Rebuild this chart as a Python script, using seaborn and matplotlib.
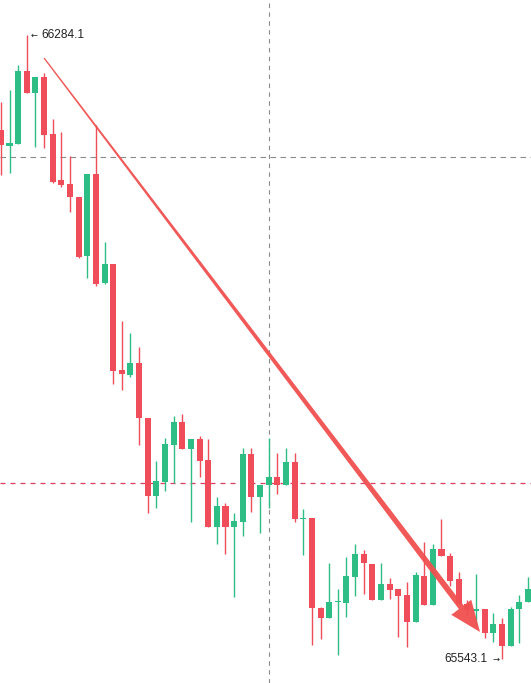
import numpy as np
import pandas as pd
import matplotlib
matplotlib.use("Agg")
import matplotlib.pyplot as plt
from matplotlib.patches import Polygon
from matplotlib.transforms import IdentityTransform
import seaborn as sns

# ---- data ----
opens = [66171.3, 66152.3, 66154.7, 66241.4, 66215.3, 66234.3, 66166.6, 66111.9, 66107.2, 66091.8,
         66021.7, 66119.1, 65989.6, 66012.2, 65886.3, 65880.4, 65894.6, 65829.3, 65736.7, 65753.3,
         65797.3, 65824.6, 65792.5, 65804.4, 65779.5, 65699.9, 65724.8, 65699.9, 65705.8, 65786.6,
         65735.5, 65749.8, 65759.3, 65749.8, 65777.1, 65709.4, 65710.6, 65603.7, 65591.8, 65610.8,
         65609.6, 65640.5, 65667.8, 65655.9, 65613.2, 65632.2, 65626.3, 65619.2, 65587.1, 65641.7,
         65607.3, 65673.7, 65665.4, 65638.1, 65608.4, 65600.1, 65602.5, 65574.0, 65584.7, 65558.6,
         65602.5, 65610.8]
highs = [66204.6, 66218.8, 66248.5, 66284.1, 66234.3, 66239.0, 66184.4, 66169.0, 66140.4, 66091.8,
         66119.1, 66177.3, 66038.3, 66012.2, 65944.5, 65930.3, 65913.6, 65829.3, 65778.3, 65805.6,
         65831.7, 65834.1, 65804.4, 65808.0, 65804.4, 65735.5, 65728.4, 65716.5, 65793.7, 65793.7,
         65749.8, 65805.6, 65787.8, 65793.7, 65787.8, 65721.3, 65710.6, 65604.9, 65657.1, 65626.3,
         65664.3, 65679.7, 65672.6, 65655.9, 65657.1, 65639.3, 65626.3, 65634.6, 65646.4, 65682.1,
         65679.7, 65709.4, 65669.0, 65646.4, 65613.2, 65644.1, 65602.5, 65597.7, 65591.8, 65604.9,
         65619.2, 65641.0]
lows = [66117.9, 66120.3, 66154.7, 66215.3, 66151.1, 66149.9, 66108.4, 66103.6, 66073.9, 66019.3,
        65995.6, 65986.1, 65988.4, 65869.7, 65862.6, 65878.0, 65797.3, 65716.5, 65722.5, 65742.6,
        65752.1, 65792.5, 65705.8, 65759.3, 65699.9, 65679.7, 65667.8, 65616.8, 65689.2, 65717.7,
        65692.8, 65722.5, 65739.1, 65749.8, 65705.8, 65666.6, 65559.8, 65566.9, 65591.8, 65547.9,
        65593.0, 65618.0, 65620.4, 65613.2, 65613.2, 65614.4, 65569.3, 65557.4, 65587.1, 65607.3,
        65607.3, 65665.4, 65629.8, 65608.4, 65595.4, 65583.5, 65568.1, 65563.3, 65543.1, 65558.6,
        65562.1, 65610.8]
closes = [66153.5, 66155.9, 66241.4, 66215.3, 66234.3, 66165.4, 66109.6, 66106.0, 66091.8, 66020.5,
          66119.1, 65988.4, 66012.2, 65885.1, 65881.6, 65894.6, 65829.3, 65736.7, 65754.5, 65798.4,
          65824.6, 65792.5, 65804.4, 65778.3, 65699.9, 65724.8, 65699.9, 65707.0, 65786.6, 65735.5,
          65749.8, 65759.3, 65749.8, 65777.1, 65709.4, 65710.6, 65603.7, 65591.8, 65610.8, 65612.0,
          65641.7, 65667.8, 65657.1, 65613.2, 65632.2, 65625.1, 65618.0, 65587.1, 65642.9, 65607.3,
          65673.7, 65665.4, 65635.8, 65608.4, 65601.3, 65602.5, 65574.0, 65584.7, 65558.6, 65602.5,
          65610.8, 65626.3]

high_label = "66284.1"
low_label = "65543.1"
crosshair_price = 66139.3
last_price_line = 65752.1
crosshair_index = 31
trend_start = (5, 66256.8)
trend_end = (55.46, 65575.2)

GREEN = "#2EBD85"
RED = "#EF4D5A"

df = pd.DataFrame({"open": opens, "high": highs, "low": lows, "close": closes})
df["idx"] = np.arange(len(df))
df["up"] = df["close"] >= df["open"]

sns.set_style("white")
plt.rcParams["font.family"] = ["Liberation Sans", "DejaVu Sans"]

fig = plt.figure(figsize=(5.31, 6.83), dpi=100)
ax = fig.add_axes([0, 0, 1, 1])
ax.set_xlim(-0.1, 61.36)
ax.set_ylim(65514.6, 66325.7)
ax.axis("off")

# guide lines
ax.axhline(crosshair_price, color="#8a8a8a", lw=0.8, dashes=(5, 4), zorder=1)
ax.axhline(last_price_line, color="#DC3F5E", lw=0.9, dashes=(4, 4), zorder=1)
ax.axvline(crosshair_index, color="#8a8a8a", lw=0.8, dashes=(4, 4), zorder=1)

# candles
colors = np.where(df["up"], GREEN, RED)
ax.vlines(df["idx"], df["low"], df["high"], colors=colors, lw=1.0, zorder=2)
body_bottom = np.minimum(df["open"], df["close"])
body_h = np.maximum(np.abs(df["close"] - df["open"]), 1.6)
ax.bar(df["idx"], body_h, bottom=body_bottom, width=0.7, color=colors, linewidth=0, zorder=3)

# labels for high / low
ax.annotate("\u2190", xy=(3, max(highs)), xytext=(2.6, 0), textcoords="offset points",
            ha="left", va="center", fontsize=6, color="#222222", family="DejaVu Sans", zorder=5)
ax.annotate(high_label, xy=(3, max(highs)), xytext=(10.2, 0), textcoords="offset points",
            ha="left", va="center", fontsize=8.6, color="#222222", zorder=5)
ax.annotate("\u2192", xy=(58, min(lows)), xytext=(-2.0, 0), textcoords="offset points",
            ha="right", va="center", fontsize=6, color="#222222", family="DejaVu Sans", zorder=5)
ax.annotate(low_label, xy=(58, min(lows)), xytext=(-10.5, 0), textcoords="offset points",
            ha="right", va="center", fontsize=8.6, color="#222222", zorder=5)

# tapered trend arrow (drawn in display pixels)
fig.canvas.draw()
p0 = ax.transData.transform(trend_start)
p1 = ax.transData.transform(trend_end)
d = p1 - p0
L = np.hypot(*d)
u = d / L
n = np.array([-u[1], u[0]])
head_len, head_hw = 31.0, 12.5
w0, w1 = 1.3, 6.0
pb = p1 - u * head_len
pts = [p0 + n * w0 / 2, pb + n * w1 / 2, pb + n * head_hw, p1,
       pb - n * head_hw, pb - n * w1 / 2, p0 - n * w0 / 2]
arrow = Polygon(pts, closed=True, transform=IdentityTransform(), facecolor="#F0504F",
                edgecolor="none", alpha=0.95, zorder=4)
ax.add_artist(arrow)

fig.savefig("out.png", dpi=100, facecolor="white")
